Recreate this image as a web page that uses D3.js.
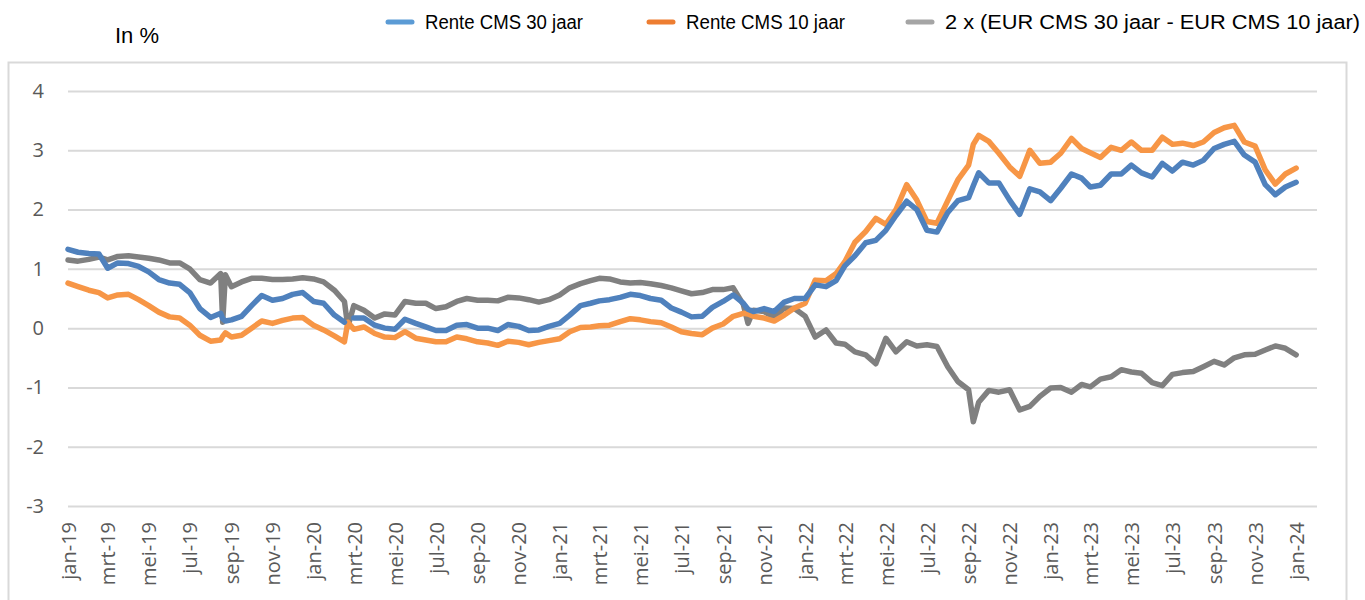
<!DOCTYPE html>
<html>
<head>
<meta charset="utf-8">
<script src="https://cdn.jsdelivr.net/npm/d3@7"></script>
<style>
  body { margin: 0; background: #fff; }
  .tick-label { font-family: "Open Sans", sans-serif; font-size: 20px; fill: #595959; }
  .legend-text { font-family: "Liberation Sans Narrow", "Arial Narrow", "Liberation Sans", sans-serif; font-size: 20px; fill: #000; }
</style>
</head>
<body>
<div id="chart"></div>
<script>
// observation dates (twice a month, plus a few extra points around the spikes)
var dates = [
  "2019-01-01","2019-01-16","2019-02-01","2019-02-16","2019-03-01","2019-03-16","2019-04-01","2019-04-16",
  "2019-05-01","2019-05-16","2019-06-01","2019-06-16","2019-07-01","2019-07-16","2019-08-01","2019-08-16",
  "2019-08-19","2019-08-23",
  "2019-09-01","2019-09-16","2019-10-01","2019-10-16","2019-11-01","2019-11-16","2019-12-01","2019-12-16",
  "2020-01-01","2020-01-16","2020-02-01","2020-02-16",
  "2020-02-21",
  "2020-03-01","2020-03-16","2020-04-01","2020-04-16","2020-05-01","2020-05-16","2020-06-01","2020-06-16",
  "2020-07-01","2020-07-16","2020-08-01","2020-08-16","2020-09-01","2020-09-16","2020-10-01","2020-10-16",
  "2020-11-01","2020-11-16","2020-12-01","2020-12-16","2021-01-01","2021-01-16","2021-02-01","2021-02-16",
  "2021-03-01","2021-03-16","2021-04-01","2021-04-16","2021-05-01","2021-05-16","2021-06-01","2021-06-16",
  "2021-07-01","2021-07-16","2021-08-01","2021-08-16","2021-09-01","2021-09-16","2021-10-01",
  "2021-10-08",
  "2021-10-16","2021-11-01","2021-11-16","2021-12-01","2021-12-16",
  "2022-01-01","2022-01-16","2022-02-01","2022-02-16","2022-03-01","2022-03-16","2022-04-01","2022-04-16",
  "2022-05-01","2022-05-16","2022-06-01","2022-06-16","2022-07-01","2022-07-16","2022-08-01","2022-08-16",
  "2022-09-01",
  "2022-09-08",
  "2022-09-16","2022-10-01","2022-10-16","2022-11-01","2022-11-16","2022-12-01","2022-12-16",
  "2023-01-01","2023-01-16","2023-02-01","2023-02-16","2023-03-01","2023-03-16","2023-04-01","2023-04-16",
  "2023-05-01","2023-05-16","2023-06-01","2023-06-16","2023-07-01","2023-07-16","2023-08-01","2023-08-16",
  "2023-09-01","2023-09-16","2023-10-01","2023-10-16","2023-11-01","2023-11-16","2023-12-01","2023-12-16",
  "2024-01-01"
];

// Rente CMS 30 jaar (null = gap in the data)
var rente30 = [
  1.33, 1.28, 1.26, 1.25, 1.01, 1.10, 1.09, 1.04,
  0.95, 0.82, 0.76, 0.74, 0.60, 0.33, 0.18, 0.25,
  0.16, 0.12,
  0.14, 0.20, 0.38, 0.55, 0.47, 0.50, 0.57, 0.60,
  0.45, 0.42, 0.22, 0.10,
  null,
  0.17, 0.17, 0.05, 0.00, -0.02, 0.15, 0.08, 0.02,
  -0.04, -0.04, 0.05, 0.06, 0.00, 0.00, -0.04, 0.06,
  0.03, -0.04, -0.03, 0.03, 0.08, 0.22, 0.38, 0.42,
  0.46, 0.48, 0.52, 0.57, 0.55, 0.50, 0.47, 0.34,
  0.27, 0.19, 0.20, 0.35, 0.45, 0.56, 0.42,
  0.32,
  0.28, 0.33, 0.28, 0.44, 0.50,
  0.50, 0.73, 0.70, 0.80, 1.05, 1.22, 1.44, 1.48,
  1.65, 1.90, 2.14, 2.00, 1.65, 1.62, 1.95, 2.15,
  2.20,
  2.40,
  2.62, 2.45, 2.45, 2.16, 1.92, 2.35, 2.30,
  2.15, 2.36, 2.60, 2.53, 2.38, 2.41, 2.60, 2.60,
  2.75, 2.62, 2.55, 2.78, 2.65, 2.80, 2.75, 2.83,
  3.03, 3.10, 3.15, 2.92, 2.80, 2.42, 2.25, 2.38,
  2.46
];

// Rente CMS 10 jaar
var rente10 = [
  0.76, 0.70, 0.64, 0.60, 0.51, 0.56, 0.57, 0.48,
  0.38, 0.27, 0.19, 0.17, 0.05, -0.12, -0.22, -0.20,
  -0.14, -0.08,
  -0.15, -0.12, 0.00, 0.12, 0.08, 0.13, 0.17, 0.18,
  0.05, -0.03, -0.13, -0.23,
  0.10,
  -0.02, 0.02, -0.09, -0.15, -0.16, -0.06, -0.17, -0.20,
  -0.23, -0.23, -0.15, -0.18, -0.23, -0.25, -0.29, -0.22,
  -0.24, -0.28, -0.24, -0.21, -0.18, -0.06, 0.01, 0.02,
  0.04, 0.05, 0.11, 0.16, 0.14, 0.11, 0.09, 0.02,
  -0.06, -0.09, -0.11, 0.00, 0.07, 0.20, 0.25,
  0.24,
  0.20, 0.17, 0.12, 0.22, 0.34,
  0.42, 0.81, 0.80, 0.92, 1.12, 1.45, 1.63, 1.85,
  1.75, 2.00, 2.42, 2.16, 1.80, 1.77, 2.15, 2.50,
  2.75,
  3.10,
  3.25, 3.15, 2.95, 2.72, 2.56, 3.00, 2.78,
  2.80, 2.95, 3.20, 3.03, 2.96, 2.88, 3.05, 3.00,
  3.14, 3.00, 3.00, 3.22, 3.10, 3.12, 3.08, 3.14,
  3.30, 3.38, 3.42, 3.14, 3.07, 2.67, 2.43, 2.60,
  2.70
];

// 2 x (EUR CMS 30 jaar - EUR CMS 10 jaar)
var spread = [
  1.15, 1.13, 1.16, 1.20, 1.15, 1.21, 1.22, 1.20,
  1.18, 1.15, 1.10, 1.10, 1.00, 0.82, 0.76, 0.92,
  0.10, 0.90,
  0.70, 0.78, 0.84, 0.84, 0.82, 0.82, 0.83, 0.85,
  0.83, 0.78, 0.64, 0.45,
  0.02,
  0.38, 0.30, 0.17, 0.24, 0.22, 0.45, 0.42, 0.42,
  0.33, 0.36, 0.45, 0.50, 0.47, 0.47, 0.46, 0.52,
  0.51, 0.48, 0.44, 0.48, 0.56, 0.68, 0.75, 0.80,
  0.84, 0.83, 0.78, 0.76, 0.77, 0.75, 0.72, 0.68,
  0.63, 0.58, 0.60, 0.65, 0.65, 0.68, 0.40,
  0.08,
  0.30, 0.28, 0.18, 0.34, 0.33,
  0.20, -0.15, -0.03, -0.25, -0.27, -0.40, -0.45, -0.60,
  -0.17, -0.40, -0.23, -0.30, -0.28, -0.31, -0.65, -0.90,
  -1.04,
  -1.58,
  -1.25, -1.05, -1.08, -1.04, -1.38, -1.32, -1.15,
  -1.01, -1.00, -1.08, -0.95, -0.99, -0.86, -0.82, -0.70,
  -0.74, -0.76, -0.92, -0.97, -0.78, -0.75, -0.73, -0.65,
  -0.56, -0.62, -0.50, -0.45, -0.44, -0.37, -0.30, -0.34,
  -0.45
];

var seriesNames = ["Rente CMS 30 jaar", "Rente CMS 10 jaar", "2 x (EUR CMS 30 jaar - EUR CMS 10 jaar)"];
var yTicks = [-3, -2, -1, 0, 1, 2, 3, 4];
var xTickLabels = ["jan-19","mrt-19","mei-19","jul-19","sep-19","nov-19","jan-20","mrt-20","mei-20","jul-20",
  "sep-20","nov-20","jan-21","mrt-21","mei-21","jul-21","sep-21","nov-21","jan-22","mrt-22","mei-22","jul-22",
  "sep-22","nov-22","jan-23","mrt-23","mei-23","jul-23","sep-23","nov-23","jan-24"];
var xTickDates = ["2019-01-01","2019-03-01","2019-05-01","2019-07-01","2019-09-01","2019-11-01","2020-01-01",
  "2020-03-01","2020-05-01","2020-07-01","2020-09-01","2020-11-01","2021-01-01","2021-03-01","2021-05-01",
  "2021-07-01","2021-09-01","2021-11-01","2022-01-01","2022-03-01","2022-05-01","2022-07-01","2022-09-01",
  "2022-11-01","2023-01-01","2023-03-01","2023-05-01","2023-07-01","2023-09-01","2023-11-01","2024-01-01"];

var parseDate = d3.timeParse("%Y-%m-%d");
var lineColors = ["#4f81bd", "#f79646", "#808080"];
var legendColors = ["#5b9bd5", "#ed7d31", "#a5a5a5"];

var width = 1365, height = 600;
var plotLeft = 68, plotRight = 1317, plotTop = 91, plotBottom = 506;

var svg = d3.select("#chart").append("svg")
    .attr("width", width)
    .attr("height", height);

// chart frame
svg.append("rect")
    .attr("x", 8.5).attr("y", 62.5)
    .attr("width", 1338).attr("height", 600)
    .attr("fill", "none")
    .attr("stroke", "#d9d9d9")
    .attr("stroke-width", 2);

var x = d3.scaleTime()
    .domain([parseDate("2019-01-01"), parseDate("2024-02-01")])
    .range([plotLeft, plotRight]);

var y = d3.scaleLinear()
    .domain([-3, 4])
    .range([plotBottom, plotTop]);

// gridlines + y labels
var yAxis = svg.append("g")
    .attr("transform", "translate(" + plotLeft + ",0)")
    .call(d3.axisLeft(y).tickValues(yTicks).tickSize(-(plotRight - plotLeft)).tickPadding(24)
        .tickFormat(function(d) { return String(d); }));
yAxis.select(".domain").remove();
yAxis.selectAll("line").attr("stroke", "#d9d9d9").attr("stroke-width", 2);
yAxis.selectAll("text").attr("class", "tick-label").attr("fill", null);

// x labels, rotated
var xAxis = svg.append("g")
    .attr("transform", "translate(0," + plotBottom + ")")
    .call(d3.axisBottom(x)
        .tickValues(xTickDates.map(parseDate))
        .tickSize(0)
        .tickFormat(function(d, i) { return xTickLabels[i]; }));
xAxis.select(".domain").remove();
xAxis.selectAll("text")
    .attr("class", "tick-label")
    .attr("fill", null)
    .attr("text-anchor", "end")
    .attr("transform", "rotate(-90)")
    .attr("x", -16)
    .attr("y", 0)
    .attr("dy", "0.36em");

// lines
var allSeries = [rente30, rente10, spread];
var line = d3.line()
    .defined(function(d) { return d.v !== null; })
    .x(function(d) { return x(d.date); })
    .y(function(d) { return y(d.v); });

// draw gray first so blue/orange sit on top, as in the reference
[2, 1, 0].forEach(function(s) {
    var pts = dates.map(function(d, i) { return { date: parseDate(d), v: allSeries[s][i] }; });
    svg.append("path")
        .datum(pts)
        .attr("d", line)
        .attr("fill", "none")
        .attr("stroke", lineColors[s])
        .attr("stroke-width", 5.5)
        .attr("stroke-linejoin", "round")
        .attr("stroke-linecap", "round");
});

// y title
svg.append("text")
    .attr("x", 115).attr("y", 43)
    .attr("font-family", "Liberation Sans, Arial, sans-serif")
    .attr("font-size", 22)
    .text("In %");

// legend
var legendX = [425, 686, 945];
var legendW = [158, 159, 415];
var legend = svg.append("g");
seriesNames.forEach(function(name, i) {
    legend.append("line")
        .attr("x1", legendX[i] - 37).attr("x2", legendX[i] - 13)
        .attr("y1", 22).attr("y2", 22)
        .attr("stroke", legendColors[i])
        .attr("stroke-width", 5)
        .attr("stroke-linecap", "round");
    legend.append("text")
        .attr("class", "legend-text")
        .attr("x", legendX[i]).attr("y", 29)
        .attr("textLength", legendW[i])
        .attr("lengthAdjust", "spacingAndGlyphs")
        .text(name);
});
</script>
</body>
</html>
